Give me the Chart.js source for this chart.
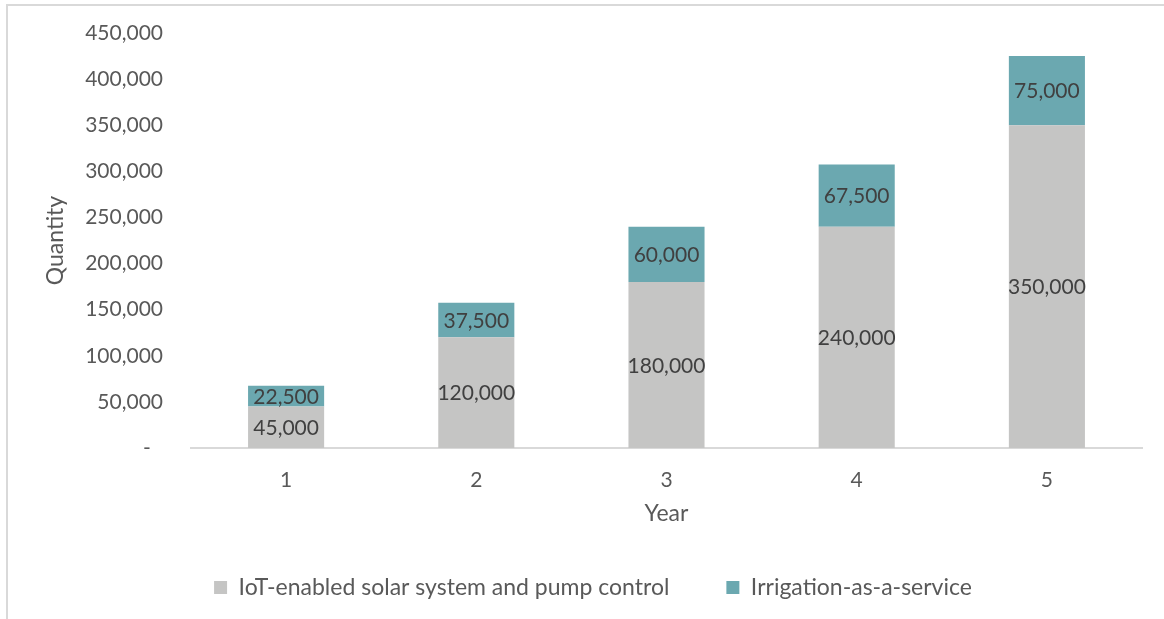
<!DOCTYPE html>
<html>
<head>
<meta charset="utf-8">
<script src="https://cdn.jsdelivr.net/npm/chart.js@4.4.1/dist/chart.umd.min.js"></script>
<style>
  html, body { margin: 0; padding: 0; background: #fff; overflow: hidden; }
  #frame { position: absolute; left: 6px; top: 4px; width: 1300px; height: 800px;
           border-left: 2px solid #d9d9d9; border-top: 2px solid #d9d9d9; }
  #wrap { position: absolute; left: 0; top: 0; width: 1164px; height: 619px; }
</style>
</head>
<body>
<div id="frame"></div>
<div id="wrap"><canvas id="chart"></canvas></div>
<script>
const years = ["1", "2", "3", "4", "5"];
const iotSolar = [45000, 120000, 180000, 240000, 350000];
const irrigationService = [22500, 37500, 60000, 67500, 75000];
const seriesNames = ["IoT-enabled solar system and pump control", "Irrigation-as-a-service"];

const FONT = "Lato, 'Open Sans', sans-serif";
const TEXT = "#595959";

function fmt(v) {
  return v.toLocaleString("en-US");
}

// draws the value in the middle of every bar segment
const segmentLabels = {
  id: "segmentLabels",
  afterDatasetsDraw(chart) {
    const ctx = chart.ctx;
    ctx.save();
    ctx.font = "21px " + FONT;
    ctx.fillStyle = "#404040";
    ctx.textAlign = "center";
    ctx.textBaseline = "middle";
    chart.data.datasets.forEach((ds, i) => {
      chart.getDatasetMeta(i).data.forEach((bar, j) => {
        const p = bar.getCenterPoint();
        ctx.fillText(fmt(ds.data[j]), p.x, p.y + 1);
      });
    });
    ctx.restore();
  }
};

const PAD_LEFT = 44, PAD_BOTTOM = 10;
const PLOT_LEFT = 191, PLOT_BOTTOM = 448;

new Chart(document.getElementById("chart"), {
  type: "bar",
  data: {
    labels: years,
    datasets: [
      { label: seriesNames[0], data: iotSolar, backgroundColor: "#c5c5c4" },
      { label: seriesNames[1], data: irrigationService, backgroundColor: "#6ba8b0" }
    ]
  },
  options: {
    responsive: true,
    maintainAspectRatio: false,
    animation: false,
    layout: { padding: { left: PAD_LEFT, right: 22, top: 33, bottom: PAD_BOTTOM } },
    datasets: { bar: { categoryPercentage: 0.4, barPercentage: 1.0 } },
    plugins: {
      tooltip: { enabled: false },
      legend: {
        position: "bottom",
        labels: {
          color: TEXT,
          font: { family: FONT, size: 23 },
          boxWidth: 13,
          boxHeight: 13,
          padding: 57
        }
      }
    },
    scales: {
      x: {
        stacked: true,
        grid: { display: false, drawTicks: false },
        border: { display: true, color: "#d9d9d9", width: 2 },
        ticks: { color: TEXT, font: { family: FONT, size: 21 }, padding: 20 },
        title: { display: true, text: "Year", color: TEXT, font: { family: FONT, size: 23 }, padding: { top: 0, bottom: -8 } },
        afterFit(scale) {
          const legendH = scale.chart.legend ? scale.chart.legend.height : 0;
          scale.height = scale.chart.height - PAD_BOTTOM - legendH - PLOT_BOTTOM;
        }
      },
      y: {
        stacked: true,
        min: 0,
        max: 450000,
        grid: { display: false, drawTicks: false },
        border: { display: false },
        ticks: {
          stepSize: 50000,
          color: TEXT,
          font: { family: FONT, size: 21 },
          padding: 28,
          callback: v => v === 0 ? "-\u2007" : fmt(v)
        },
        title: { display: true, text: "Quantity", color: TEXT, font: { family: FONT, size: 23, lineHeight: 1 }, padding: { top: 0, bottom: 0 } },
        afterFit(scale) {
          scale.width = PLOT_LEFT - PAD_LEFT;
          // keep the tick padding from pushing the plot down
          scale.paddingTop = 0;
          scale.paddingBottom = 0;
        }
      }
    }
  },
  plugins: [segmentLabels]
});
</script>
</body>
</html>
